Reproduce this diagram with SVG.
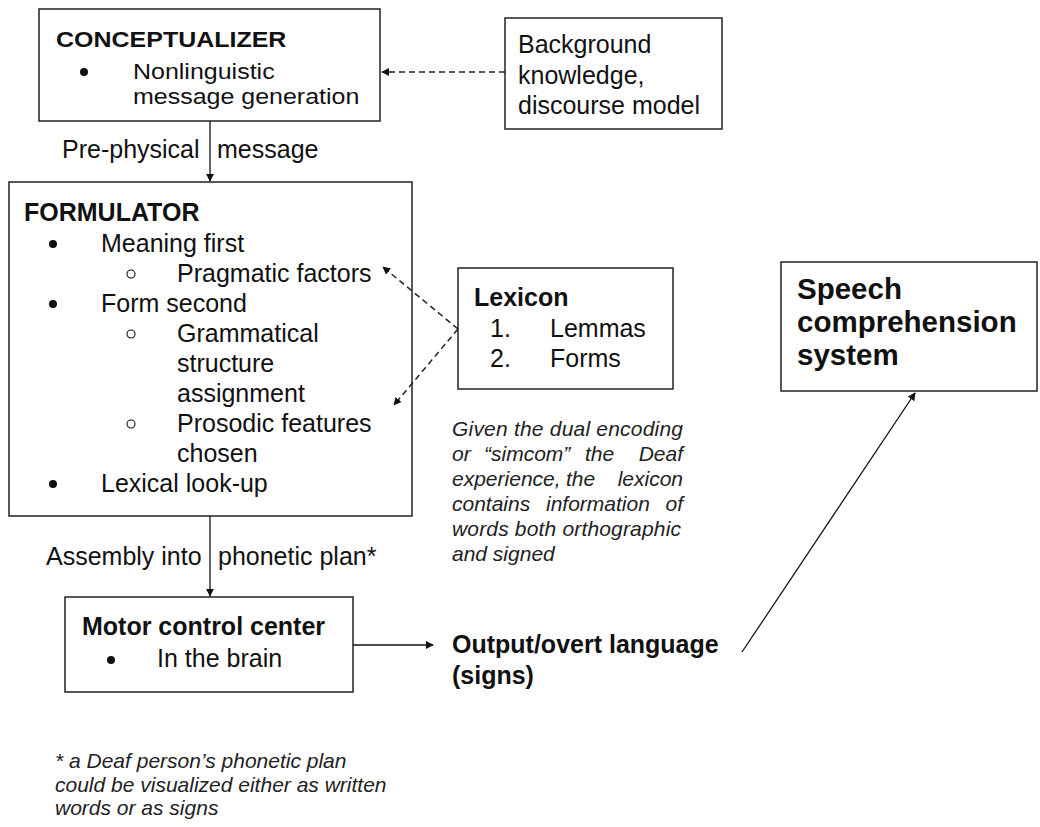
<svg xmlns="http://www.w3.org/2000/svg" width="1040" height="827" viewBox="0 0 1040 827">
<style>
.box{fill:#fff;stroke:#222;stroke-width:1.5}
text{font-family:"Liberation Sans",Arial,sans-serif;fill:#111}
.t{font-size:25px}
.b{font-size:25px;font-weight:bold}
.big{font-size:29.5px;font-weight:bold}
.it{font-size:21px;font-style:italic;fill:#222}
.fn{font-size:21px;font-style:italic;fill:#222}
.ln{stroke:#111;stroke-width:1.3;fill:none}
.dash{stroke:#222;stroke-width:1.5;fill:none;stroke-dasharray:6 4}
.dot{fill:#111}
.ring{fill:none;stroke:#111;stroke-width:1.1}
</style>
<defs>
<marker id="ah" viewBox="0 0 10 10" refX="9" refY="5" markerWidth="8" markerHeight="8" markerUnits="userSpaceOnUse" orient="auto">
<path d="M0,0 L10,5 L0,10 z" fill="#111"/>
</marker>
</defs>
<rect width="1040" height="827" fill="#fff"/>

<g id="conceptualizer">
<rect class="box" x="39" y="9" width="341" height="112"/>
<text class="b" transform="translate(56,47) scale(1,0.88)">CONCEPTUALIZER</text>
<circle class="dot" cx="84" cy="72" r="4"/>
<text class="t" transform="translate(133,79) scale(1,0.86)">Nonlinguistic</text>
<text class="t" transform="translate(133,104) scale(1,0.86)">message generation</text>
</g>

<g id="background">
<rect class="box" x="505" y="18" width="217" height="111"/>
<text class="t" x="518" y="53">Background</text>
<text class="t" x="518" y="84">knowledge,</text>
<text class="t" x="518" y="114">discourse model</text>
</g>

<g id="formulator">
<rect class="box" x="9" y="182" width="403" height="334"/>
<text class="b" x="24" y="221">FORMULATOR</text>
<circle class="dot" cx="53" cy="244" r="4"/>
<text class="t" x="101" y="252">Meaning first</text>
<circle class="ring" cx="131" cy="274" r="4"/>
<text class="t" x="177" y="282">Pragmatic factors</text>
<circle class="dot" cx="53" cy="304" r="4"/>
<text class="t" x="101" y="312">Form second</text>
<circle class="ring" cx="131" cy="334" r="4"/>
<text class="t" x="177" y="342">Grammatical</text>
<text class="t" x="177" y="372">structure</text>
<text class="t" x="177" y="402">assignment</text>
<circle class="ring" cx="131" cy="424" r="4"/>
<text class="t" x="177" y="432">Prosodic features</text>
<text class="t" x="177" y="462">chosen</text>
<circle class="dot" cx="53" cy="484" r="4"/>
<text class="t" x="101" y="492">Lexical look-up</text>
</g>

<g id="lexicon">
<rect class="box" x="458" y="268" width="215" height="121"/>
<text class="b" x="474" y="306">Lexicon</text>
<text class="t" x="490" y="337">1.</text>
<text class="t" x="550" y="337">Lemmas</text>
<text class="t" x="490" y="367">2.</text>
<text class="t" x="550" y="367">Forms</text>
</g>

<g id="lexicon-note">
<text class="it" x="452" y="436" textLength="231" lengthAdjust="spacing">Given the dual encoding</text>
<text class="it" y="461"><tspan x="452">or</tspan><tspan x="484">“simcom”</tspan><tspan x="585">the</tspan><tspan x="683" text-anchor="end">Deaf</tspan></text>
<text class="it" y="486"><tspan x="452">experience,</tspan><tspan x="566">the</tspan><tspan x="683" text-anchor="end">lexicon</tspan></text>
<text class="it" y="511"><tspan x="452">contains</tspan><tspan x="546">information</tspan><tspan x="683" text-anchor="end">of</tspan></text>
<text class="it" x="452" y="536" textLength="229" lengthAdjust="spacing">words both orthographic</text>
<text class="it" x="452" y="561">and signed</text>
</g>

<g id="motor">
<rect class="box" x="65" y="597" width="288" height="95"/>
<text class="b" x="82" y="635">Motor control center</text>
<circle class="dot" cx="111" cy="660" r="4"/>
<text class="t" x="157" y="667">In the brain</text>
</g>

<g id="output">
<text class="b" x="452" y="653">Output/overt language</text>
<text class="b" x="452" y="684">(signs)</text>
</g>

<g id="speech">
<rect class="box" x="781" y="262" width="256" height="129"/>
<text class="big" x="797" y="299">Speech</text>
<text class="big" x="797" y="332">comprehension</text>
<text class="big" x="797" y="365">system</text>
</g>

<g id="footnote">
<text class="fn" x="55" y="768">* a Deaf person’s phonetic plan</text>
<text class="fn" x="55" y="792">could be visualized either as written</text>
<text class="fn" x="55" y="815">words or as signs</text>
</g>

<g id="connectors">
<line class="dash" x1="505" y1="72" x2="382" y2="72" marker-end="url(#ah)"/>
<line class="ln" x1="210" y1="121" x2="210" y2="181" marker-end="url(#ah)"/>
<line class="dash" x1="458" y1="329" x2="383" y2="267" marker-end="url(#ah)"/>
<line class="dash" x1="458" y1="329" x2="394" y2="405" marker-end="url(#ah)"/>
<line class="ln" x1="210" y1="516" x2="210" y2="596" marker-end="url(#ah)"/>
<line class="ln" x1="353" y1="645" x2="433" y2="645" marker-end="url(#ah)"/>
<line class="ln" x1="742" y1="652" x2="915" y2="393" marker-end="url(#ah)"/>
<text class="t" x="62" y="158">Pre-physical</text>
<text class="t" x="217" y="158">message</text>
<text class="t" x="46" y="565">Assembly into</text>
<text class="t" x="218" y="565">phonetic plan*</text>
</g>
</svg>
